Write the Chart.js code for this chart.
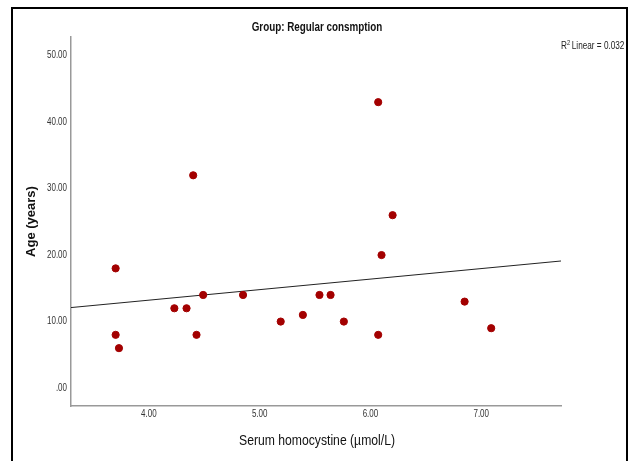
<!DOCTYPE html>
<html lang="en">
<head>
    <meta charset="UTF-8">
    <title>Group: Regular consmption</title>
    <script src="https://cdn.jsdelivr.net/npm/chart.js"></script>
    <style>
        body { margin: 0; background: #fff; }
    </style>
</head>
<body>
    <canvas id="scatterChart" width="629" height="461"></canvas>

    <script>
        // Serum homocystine (umol/L) vs age (years)
        const homocystine = [3.70, 3.70, 3.73, 4.23, 4.34, 4.40, 4.43, 4.49, 4.85, 5.19,
                             5.39, 5.54, 5.64, 5.76, 6.07, 6.07, 6.10, 6.20, 6.85, 7.09];
        const ages = [18, 8, 6, 12, 12, 32, 8, 14, 14, 10,
                      11, 14, 14, 10, 43, 8, 20, 26, 13, 9];
        const xTicks = [4, 5, 6, 7];
        const yTicks = [0, 10, 20, 30, 40, 50];
        const xRange = [3.297, 7.72];
        const yRange = [-2.7, 52.8];

        // Least squares fit line
        const n = ages.length;
        const mx = homocystine.reduce((a, b) => a + b, 0) / n;
        const my = ages.reduce((a, b) => a + b, 0) / n;
        let sxy = 0, sxx = 0, syy = 0;
        for (let i = 0; i < n; i++) {
            sxy += (homocystine[i] - mx) * (ages[i] - my);
            sxx += (homocystine[i] - mx) ** 2;
            syy += (ages[i] - my) ** 2;
        }
        const slope = sxy / sxx;
        const intercept = my - slope * mx;
        const r2 = (sxy * sxy) / (sxx * syy);
        const fitLine = xRange.map((x) => ({ x: x, y: intercept + slope * x }));

        const fmt = (v) => {
            const s = Number(v).toFixed(2);
            return s.startsWith('0.') ? s.slice(1) : s;
        };

        const SANS = "'Liberation Sans', Arial, sans-serif";

        // draw text squeezed horizontally (the original uses a narrow face)
        function narrowText(c, text, x, y, align, font, squeeze) {
            c.save();
            c.font = font;
            c.textAlign = align;
            c.translate(x, y);
            c.scale(squeeze, 1);
            c.fillText(text, 0, 0);
            c.restore();
        }

        // frame, title, tick labels, x title and the R2 label
        const extras = {
            id: 'extras',
            afterDraw(chart) {
                const c = chart.ctx;
                const xs = chart.scales.x;
                const ys = chart.scales.y;
                c.save();
                c.strokeStyle = '#000';
                c.lineWidth = 2;
                c.strokeRect(12, 8, 615, 470);

                c.textBaseline = 'middle';
                c.fillStyle = '#111';
                narrowText(c, 'Group: Regular consmption', 317, 28, 'center', 'bold 12px ' + SANS, 0.82);

                c.fillStyle = '#333';
                yTicks.forEach((v) => {
                    narrowText(c, fmt(v), 67, ys.getPixelForValue(v), 'right', '10px ' + SANS, 0.8);
                });
                xTicks.forEach((v) => {
                    narrowText(c, fmt(v), xs.getPixelForValue(v), 414, 'center', '10px ' + SANS, 0.8);
                });

                c.fillStyle = '#111';
                narrowText(c, 'Serum homocystine (µmol/L)', 317, 441, 'center', '14px ' + SANS, 0.87);

                // R² Linear = ...
                c.textBaseline = 'alphabetic';
                c.fillStyle = '#222';
                c.save();
                c.translate(561, 49);
                c.scale(0.82, 1);
                let x = 0;
                c.font = '10px ' + SANS;
                c.fillText('R', x, 0);
                x += c.measureText('R').width;
                c.font = '7px ' + SANS;
                c.fillText('2', x, -4);
                x += c.measureText('2').width + 2;
                c.font = '10px ' + SANS;
                c.fillText('Linear = ' + r2.toFixed(3), x, 0);
                c.restore();
                c.restore();
            }
        };

        const ctx = document.getElementById('scatterChart').getContext('2d');
        const chart = new Chart(ctx, {
            type: 'scatter',
            data: {
                datasets: [
                    {
                        label: 'Age',
                        data: homocystine.map((x, i) => ({ x: x, y: ages[i] })),
                        backgroundColor: '#a30000',
                        borderColor: '#a30000',
                        pointRadius: 3.6,
                    },
                    {
                        type: 'line',
                        label: 'Fit',
                        data: fitLine,
                        borderColor: '#222',
                        borderWidth: 1,
                        pointRadius: 0,
                        fill: false,
                    },
                ],
            },
            options: {
                responsive: false,
                animation: false,
                layout: { padding: { left: 0, right: 68, top: 37, bottom: 0 } },
                plugins: {
                    legend: { display: false },
                    tooltip: { enabled: false },
                    title: { display: false },
                },
                scales: {
                    x: {
                        type: 'linear',
                        min: xRange[0],
                        max: xRange[1],
                        afterBuildTicks: (axis) => { axis.ticks = xTicks.map((v) => ({ value: v })); },
                        afterFit: (axis) => { axis.height = 55; },
                        grid: { display: false, drawTicks: false },
                        border: { color: '#999', width: 1.5 },
                        ticks: { display: false },
                    },
                    y: {
                        type: 'linear',
                        min: yRange[0],
                        max: yRange[1],
                        afterBuildTicks: (axis) => { axis.ticks = yTicks.map((v) => ({ value: v })); },
                        afterFit: (axis) => { axis.width = 71; },
                        grid: { display: false, drawTicks: false },
                        border: { color: '#999', width: 1.5 },
                        ticks: { display: false },
                        title: {
                            display: true,
                            text: 'Age (years)',
                            color: '#111',
                            font: { family: SANS, size: 13, weight: 'bold' },
                            padding: { top: 24, bottom: 0 },
                        },
                    },
                },
            },
            plugins: [extras],
        });
    </script>
</body>
</html>
